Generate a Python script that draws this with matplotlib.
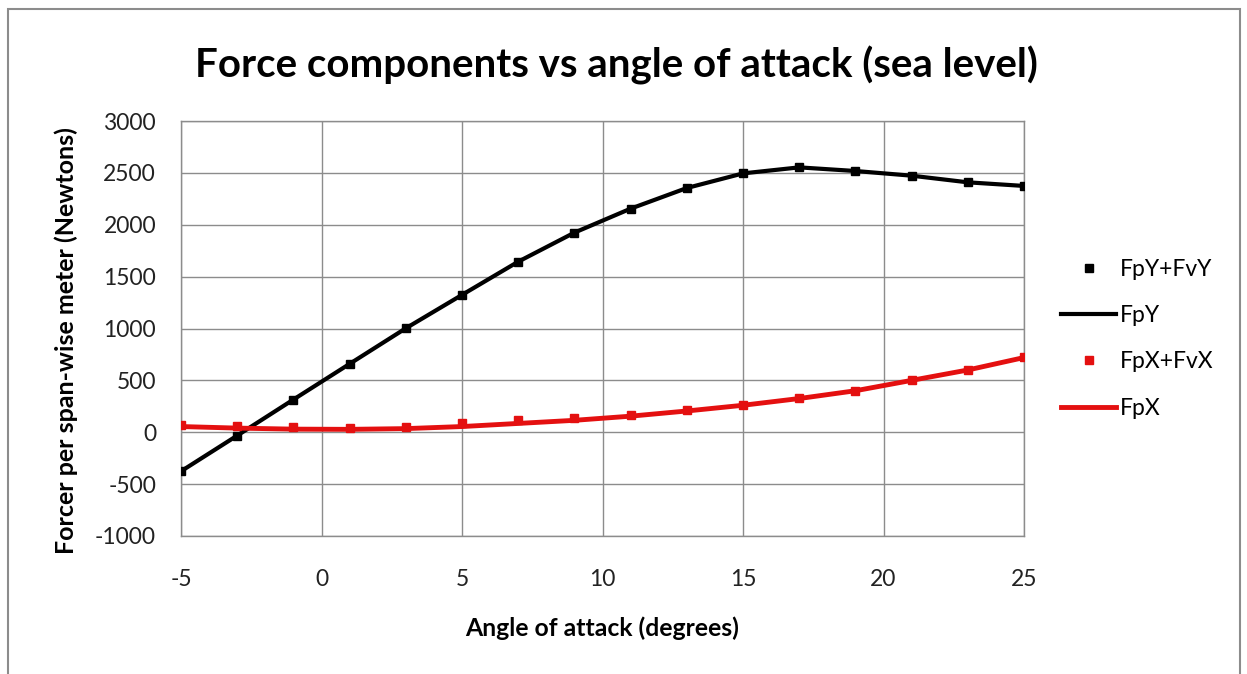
import numpy as np
import matplotlib.pyplot as plt
from matplotlib.patches import Rectangle

plt.rcParams['font.family'] = ['Lato', 'DejaVu Sans']
plt.rcParams['axes.unicode_minus'] = False

# Angle of attack (degrees)
angle = [-5, -3, -1, 1, 3, 5, 7, 9, 11, 13, 15, 17, 19, 21, 23, 25]

# Lift-direction force, pressure + viscous (markers) and pressure only (line)
fpy_fvy = [-376, -32, 315, 659, 1002, 1324, 1644, 1924, 2155, 2354, 2495, 2553, 2518, 2473, 2409, 2374]
fpy = [-376, -32, 315, 659, 1002, 1324, 1644, 1924, 2155, 2354, 2495, 2553, 2518, 2473, 2409, 2374]

# Drag-direction force, pressure + viscous (markers) and pressure only (line)
fpx_fvx = [71, 58, 46, 42, 55, 85, 115, 135, 167, 216, 267, 331, 402, 505, 601, 723]
fpx = [55, 40, 30, 28, 35, 55, 85, 115, 155, 205, 260, 325, 400, 500, 600, 720]

fig = plt.figure(figsize=(12.47, 6.74), dpi=100)
ax = fig.add_axes([181 / 1247, 1 - 536 / 674, 843 / 1247, 415 / 674])

ax.plot(angle, fpy_fvy, 's', color='black', markersize=6, label='FpY+FvY', zorder=4)
ax.plot(angle, fpy, '-', color='black', linewidth=3, label='FpY', zorder=3)
ax.plot(angle, fpx_fvx, 's', color='#e41010', markersize=6, label='FpX+FvX', zorder=4)
ax.plot(angle, fpx, '-', color='#e41010', linewidth=3.5, label='FpX', zorder=3)

ax.set_xlim(-5, 25)
ax.set_ylim(-1000, 3000)
ax.set_xticks(range(-5, 26, 5))
ax.set_yticks(range(-1000, 3001, 500))
ax.grid(True, color='#8c8c8c', linewidth=1)
ax.set_axisbelow(True)
for s in ax.spines.values():
    s.set_color('#8c8c8c')
    s.set_linewidth(1)
ax.tick_params(length=0, labelsize=16.5, colors='#222222')
ax.tick_params(axis='y', pad=18)
ax.tick_params(axis='x', pad=24)

ax.set_xlabel('Angle of attack (degrees)', fontsize=17.8, fontweight='bold', labelpad=19)
ax.set_ylabel('Forcer per span-wise meter (Newtons)', fontsize=18, fontweight='bold')
ax.yaxis.set_label_coords(-0.122, 0.472)

fig.text(0.494, 0.903, 'Force components vs angle of attack (sea level)',
         ha='center', va='center', fontsize=29, fontweight='bold')

ax.legend(loc='center left', bbox_to_anchor=(1.02, 0.475), frameon=False,
          fontsize=16.5, handlelength=2.4, handletextpad=0.15, labelspacing=1.1)

# chart-area frame
fig.patches.append(Rectangle((8 / 1247, -0.05), 1232 / 1247, 1.05 - 9 / 674,
                             transform=fig.transFigure, fill=False,
                             edgecolor='#8c8c8c', linewidth=1.5))

fig.savefig('out.png', dpi=100)
